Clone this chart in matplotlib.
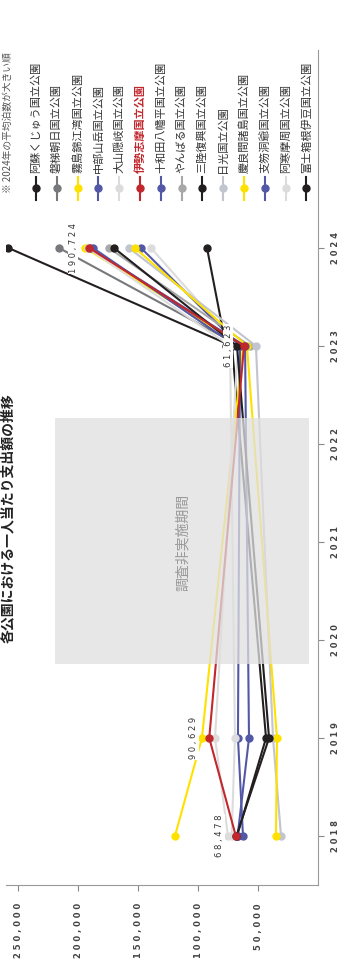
import numpy as np
import matplotlib.pyplot as plt
from matplotlib.patches import Rectangle

plt.rcParams['font.family'] = ['Noto Sans CJK JP', 'DejaVu Sans']

parks = ['阿蘇くじゅう国立公園', '磐梯朝日国立公園', '霧島錦江湾国立公園', '中部山岳国立公園',
         '大山隠岐国立公園', '伊勢志摩国立公園', '十和田八幡平国立公園', 'やんばる国立公園',
         '三陸復興国立公園', '日光国立公園', '慶良間諸島国立公園', '支笏洞爺国立公園',
         '阿寒摩周国立公園', '富士箱根伊豆国立公園']
colors = ['#231f20', '#77787b', '#ffe100', '#5358a6', '#dcdcdc', '#c1272d', '#5358a6',
          '#a8a8a8', '#231f20', '#c2c4d0', '#ffe100', '#5358a6', '#dcdcdc', '#231f20']

years = [2018, 2019, 2023, 2024]
v2018 = [67500, None, 119200, None, 75000, 68478, 62500, None, None, 30800, 35000, 67000, 72000, 68000]
v2019 = [43300, None, 96700, None, 85800, 90629, 66700, None, None, 37500, 34200, 57500, 69200, 40800]
v2023 = [71700, 65000, 62500, 68300, 66700, 61623, 65000, 56700, 76700, 51700, 59200, 60800, 73300, 67500]
v2024 = [258000, 215800, 194000, 187500, 139200, 190724, 147500, 174200, 92500, 157500, 152500, 190000, 192000, 170000]
highlight = '伊勢志摩国立公園'

W, H = 350, 966
fig = plt.figure(figsize=(W / 100, H / 100), dpi=100)
ax = fig.add_axes([6 / W, (H - 885) / H, 312 / W, 835 / H])

def spaced(s):
    return ' '.join(s)

for i, name in enumerate(parks):
    vals = [v2018[i], v2019[i], v2023[i], v2024[i]]
    yy = [y for y, v in zip(years, vals) if v is not None]
    xx = [v for v in vals if v is not None]
    z = 4 if name == highlight else 3
    ax.plot(xx, yy, '-o', color=colors[i], lw=1.5, ms=5, zorder=z)
    if name == highlight:
        for x, y in zip(xx, yy):
            ax.annotate(spaced(f'{x:,}'), (x, y), xytext=(-16, 0), textcoords='offset pixels',
                        rotation=90, ha='center', va='center', fontsize=6, color='#333333',
                        family='DejaVu Sans', zorder=6,
                        bbox=dict(boxstyle='square,pad=0.1', fc='white', ec='none'))

# 2020-2022 no survey
ax.add_patch(Rectangle((7500, 2019.75), 211500, 2.52, color='#e0e0e0', alpha=0.75, zorder=5, lw=0))
ax.text(112500, 2021, '調査非実施期間', rotation=90, ha='center', va='center',
        fontsize=10, color='#999999', zorder=6)

ax.set_xlim(260000, 0)
ax.set_ylim(2017.5, 2026.02)
xt = [50000, 100000, 150000, 200000, 250000]
ax.set_xticks(xt)
ax.set_xticklabels([spaced(f'{v:,}') for v in xt], rotation=90, family='DejaVu Sans',
                   fontsize=6, color='#444444', fontweight='bold')
yt = list(range(2018, 2025))
ax.yaxis.tick_right()
ax.set_yticks(yt)
ax.set_yticklabels([spaced(str(y)) for y in yt], rotation=90, family='DejaVu Sans',
                   fontsize=6, color='#444444', fontweight='bold', va='center')
ax.tick_params(axis='x', direction='out', length=4, color='#888888', pad=9)
ax.tick_params(axis='y', direction='out', length=4, color='#888888', pad=5)
for s in ['left', 'top']:
    ax.spines[s].set_visible(False)
for s in ['bottom', 'right']:
    ax.spines[s].set_color('#999999')

# legend, drawn rotated
for i, name in enumerate(parks):
    px = (36 + i * 20.8) / W
    fig.add_artist(plt.Line2D([px, px], [1 - 177 / H, 1 - 200 / H], color=colors[i], lw=1.5))
    fig.add_artist(plt.Line2D([px], [1 - 188 / H], marker='o', ms=5, color=colors[i]))
    red = name == highlight
    fig.text(px, 1 - 173 / H, name, rotation=90, ha='center', va='bottom', fontsize=8,
             color='#c1272d' if red else '#333333', fontweight='bold' if red else 'normal')

fig.text(8 / W, 1 - 193 / H, '※ 2024年の平均泊数が大きい順', rotation=90, ha='center',
         va='bottom', fontsize=7, color='#555555')
fig.text(8 / W, 1 - 518 / H, '各公園における一人当たり支出額の推移', rotation=90, ha='center',
         va='center', fontsize=10, fontweight='bold', color='#222222')

fig.savefig('out.png', dpi=100)
